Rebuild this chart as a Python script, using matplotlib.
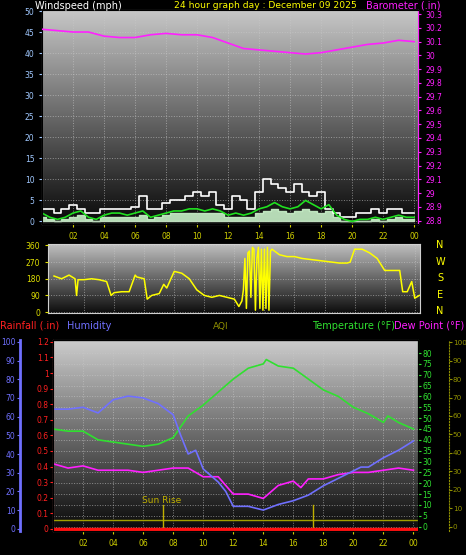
import numpy as np
import matplotlib
matplotlib.use("Agg")
import matplotlib.pyplot as plt

# ---------------- data ----------------
wind_hours = [i*0.5 for i in range(49)]
wind_avg = [2,1,0.5,1,2,2.5,1,0.5,1.5,2,2,1.5,2,2.5,1,1.5,2,2.5,2.5,3,3,2.5,3,2.5,1.5,2,1.5,2,3,3.5,4.5,3.5,3,3.5,5,4,3,4,1.5,0.5,0,0.5,0.5,1,0.5,1,1.5,1,1]
wind_gust = [3,3,2,3,4,3,2,2,3,3,3,3,3.5,6,3,3,4.5,5,5,6,7,6,7,4,3,6,5,3,7,10,9,8,7,9,7,6,7,3,2,1,1,2,2,3,2,3,3,2,2]
wind_lull = [1,0.5,0,0.5,1,1.5,0.5,0,1,1,1,1,1,1.5,0.5,1,1.5,2,2,2,2,2,2,2,1,1,1,1,2,2.5,3,2.5,2,2.5,3,2.5,2,2.5,1,0,0,0,0,0.5,0,0.5,1,0.5,0.5]
baro_hours = list(range(25))
baro = [30.19,30.18,30.17,30.17,30.14,30.13,30.13,30.15,30.16,30.15,30.15,30.13,30.09,30.05,30.04,30.03,30.02,30.01,30.02,30.04,30.06,30.08,30.09,30.11,30.10]

dir_hours = [0,0.5,1,1.4,1.5,1.6,2,2.5,3,3.5,3.8,4,4.5,5,5.4,5.5,6,6.2,6.5,7,7.3,7.5,8,8.5,9,9.5,10,10.5,11,11.5,12,12.3,12.5,12.6,12.7,12.8,12.9,13.0,13.1,13.2,13.3,13.4,13.5,13.6,13.7,13.8,13.9,14.0,14.1,14.2,14.3,14.4,14.5,15,15.5,16,16.5,17,17.5,18,18.5,19,19.5,19.7,20,20.5,21,21.5,22,22.5,23,23.2,23.5,23.8,24,24.3]
dir_vals = [195,180,200,180,90,175,175,180,175,165,90,105,110,110,200,190,180,70,90,100,150,130,220,210,180,120,90,80,90,80,70,30,60,120,290,20,320,330,80,350,340,10,290,350,20,340,10,340,20,350,10,330,340,310,300,300,290,285,280,275,270,265,265,270,340,340,320,290,225,225,225,110,110,165,75,90]

hum_hours = [0,1,2,3,4,5,6,7,8,8.5,9,9.5,10,11,11.5,12,13,14,15,16,17,18,19,20,20.5,21,22,23,24]
humidity = [64,64,65,62,69,71,70,67,61,50,40,42,32,25,20,12,12,10,13,15,18,23,27,31,33,33,38,42,47]
temp_hours = [0,1,2,3,4,5,6,7,8,9,10,11,12,13,14,14.2,15,16,17,18,19,20,21,22,22.3,23,24]
temperature = [45,44,44,40,39,38,37,38,41,51,56,62,68,73,75,77,74,73,68,63,60,55,52,48,51,48,45]
dew_hours = [0,1,2,3,4,5,6,7,8,9,10,11,12,13,14,14.5,15,16,16.5,17,18,19,20,21,22,23,24]
dewpoint = [29,27,28,26,26,26,25,26,27,27,23,23,15,15,13,16,19,21,18,22,22,24,25,25,26,27,26]
rain_hours = [0,24.3]
rainfall = [0,0]
sun_events = [7.3, 17.3]
xticks = [2,4,6,8,10,12,14,16,18,20,22,24]
xticklabels = ['02','04','06','08','10','12','14','16','18','20','22','00']

W, H = 466, 555
fig = plt.figure(figsize=(W/100, H/100), dpi=100, facecolor='black')

def ax_px(x0, y0, x1, y1):
    return fig.add_axes([x0/W, 1-y1/H, (x1-x0)/W, (y1-y0)/H])

def grad(ax, top=0.75, bot=0.05):
    g = np.linspace(top, bot, 256).reshape(-1, 1)
    ax.imshow(np.dstack([g, g, g]), aspect='auto', extent=[0, 1, 0, 1],
              transform=ax.transAxes, zorder=0)

def style(ax):
    ax.set_facecolor('black')
    for s in ax.spines.values():
        s.set_color('#d0d0d0')
    ax.grid(True, color='#c8c8c8', linestyle=':', linewidth=0.7, alpha=0.6)
    ax.set_axisbelow(False)

fs = 5.5
hfs = 7
# ---------------- top panel ----------------
ax1 = ax_px(42, 10, 418, 224)
grad(ax1, 0.78, 0.03)
style(ax1)
ax1.fill_between(wind_hours, 0, wind_lull, color='#c8f0c8', alpha=0.9, zorder=2, step='mid')
ax1.step(wind_hours, wind_gust, color='white', lw=1.2, where='mid', zorder=3)
ax1.plot(wind_hours, wind_avg, color='#20e020', lw=1.2, zorder=4)
ax1.set_xlim(0, 24.25)
ax1.set_ylim(-0.6, 50.3)
ax1.set_yticks(range(0, 51, 5))
ax1.set_xticks(xticks)
ax1.set_xticklabels(xticklabels)
ax1.tick_params(axis='y', colors='#a0c8ff', labelsize=fs, length=2)
ax1.tick_params(axis='x', colors='#d0d000', labelsize=fs, length=2)
ax1b = ax1.twinx()
ax1b.plot(baro_hours, baro, color='#ff20ff', lw=1.2, zorder=5)
ax1b.set_ylim(28.775, 30.33)
ax1b.set_yticks(np.round(np.arange(28.8, 30.31, 0.1), 1))
ax1b.set_yticklabels(['28.8','28.9','29','29.1','29.2','29.3','29.4','29.5','29.6','29.7','29.8','29.9','30','30.1','30.2','30.3'])
ax1b.tick_params(axis='y', colors='#ff20ff', labelsize=fs, length=2)
ax1b.spines['right'].set_color('#ff20ff')
fig.text(35/W, 1-6/H, 'Windspeed (mph)', color='white', fontsize=hfs, va='center')
fig.text(265/W, 1-6/H, '24 hour graph day : December 09 2025', color='yellow', fontsize=6.6, va='center', ha='center')
fig.text(440/W, 1-6/H, 'Barometer (.in)', color='#ff20ff', fontsize=hfs, va='center', ha='right')

# ---------------- middle panel ----------------
ax2 = ax_px(48, 244, 420, 313)
grad(ax2, 0.75, 0.05)
style(ax2)
ax2.plot(dir_hours, dir_vals, color='yellow', lw=1.1, zorder=3)
ax2.set_xlim(-0.4, 24.35)
ax2.set_ylim(-5, 368)
ax2.set_yticks([0, 90, 180, 270, 360])
ax2.set_xticks(xticks)
ax2.set_xticklabels([])
ax2.tick_params(axis='y', colors='#e0e000', labelsize=fs, length=2)
ax2.tick_params(axis='x', length=0)
for lab, y in zip(['N', 'W', 'S', 'E', 'N'], [245, 262, 278, 295, 311]):
    fig.text(440/W, 1-y/H, lab, color='yellow', fontsize=hfs, va='center', ha='center')

# ---------------- bottom panel ----------------
ax3 = ax_px(53, 340, 418, 531)
grad(ax3, 0.8, 0.03)
style(ax3)
ax3.set_xlim(0, 24.3)
ax3.set_ylim(-2, 86)
ax3.set_xticks(xticks)
ax3.set_xticklabels(xticklabels)
ax3.tick_params(axis='x', colors='#d0d000', labelsize=fs, length=2)
ax3.plot(temp_hours, temperature, color='#30e030', lw=1.2, zorder=4)
ax3.plot(dew_hours, dewpoint, color='#ff20ff', lw=1.2, zorder=4)
ax3.axhline(3, color='#a0a000', lw=1, zorder=3)
for s in sun_events:
    ax3.plot([s, s], [-2, 10], color='#c0b000', lw=1, zorder=3)
ax3.text(sun_events[0]-0.1, 11, 'Sun Rise', color='#c0b000', fontsize=6.5, ha='center', zorder=5)

axh = ax3.twinx()
axh.yaxis.tick_left()
axh.spines['left'].set_position(('outward', 24))
axh.spines['left'].set_color('#7070ff')
axh.spines['left'].set_linewidth(2)
axh.plot(hum_hours, humidity, color='#7070ff', lw=1.2, zorder=4)
axh.set_ylim(-1.2, 101)
axh.set_yticks(range(0, 101, 10))
axh.tick_params(axis='y', colors='#7070ff', labelsize=fs, length=2, pad=1, labelleft=True, labelright=False)

axr = ax3.twinx()
axr.yaxis.tick_left()
axr.spines['left'].set_color('#ff2020')
axr.spines['left'].set_linestyle('--')
axr.plot(rain_hours, rainfall, color='#ff1010', lw=2.5, zorder=6)
axr.set_ylim(-0.014, 1.212)
axr.set_yticks(np.round(np.arange(0, 1.21, 0.1), 1))
axr.set_yticklabels(['0','0.1','0.2','0.3','0.4','0.5','0.6','0.7','0.8','0.9','1','1.1','1.2'])
axr.tick_params(axis='y', colors='#ff2020', labelsize=fs, length=2, pad=1, labelleft=True, labelright=False)

axa = ax3.twinx()
axa.spines['right'].set_position(('outward', 22))
axa.spines['right'].set_color('#909000')
axa.spines['right'].set_linestyle(':')
axa.set_ylim(-2.4, 101.2)
axa.set_yticks(range(0, 101, 10))
axa.tick_params(axis='y', colors='#909000', labelsize=5.2, length=2, pad=1)

# temperature axis on the right (after twinx calls, which reset ax3 to the left)
ax3.yaxis.tick_right()
ax3.set_yticks(range(0, 81, 5))
ax3.tick_params(axis='y', colors='#30e030', labelsize=fs, length=2, pad=1,
                left=False, labelleft=False, right=True, labelright=True)
ax3.spines['right'].set_color('#30e030')

hy = 1-326/H
fig.text(0, hy, 'Rainfall (.in)', color='#ff2020', fontsize=hfs, va='center')
fig.text(67/W, hy, 'Humidity', color='#7070ff', fontsize=hfs, va='center')
fig.text(221/W, hy, 'AQI', color='#909000', fontsize=6.5, va='center', ha='center')
fig.text(312/W, hy, 'Temperature (°F)', color='#30e030', fontsize=hfs, va='center')
fig.text(394/W, hy, 'Dew Point (°F)', color='#ff20ff', fontsize=hfs, va='center')

fig.savefig('out.png', dpi=100, facecolor='black')
